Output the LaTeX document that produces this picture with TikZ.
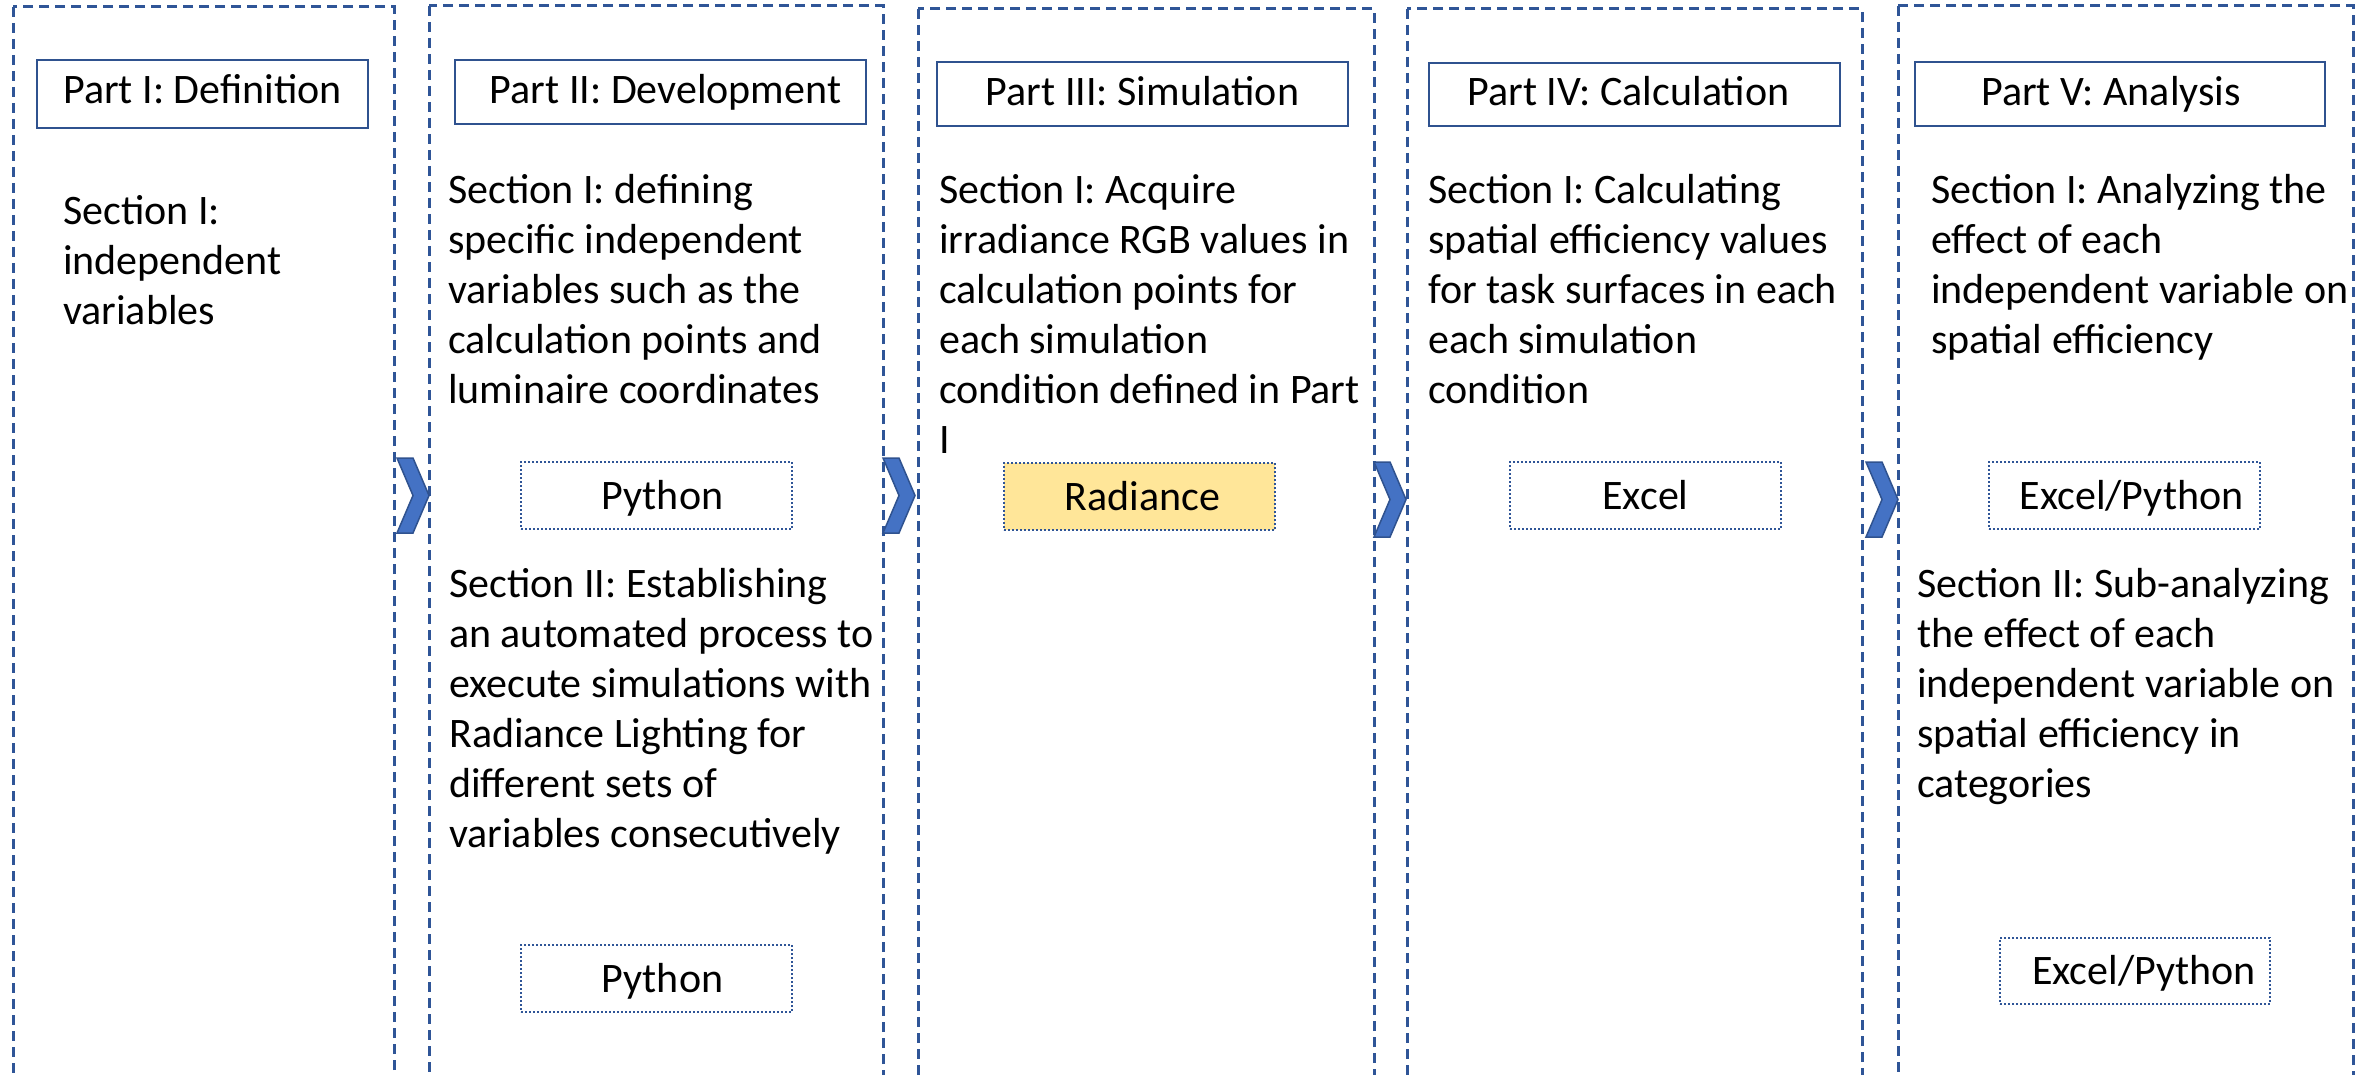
\documentclass[tikz,border=0pt]{standalone}
\usepackage{fontspec}
\setmainfont{Carlito}
\definecolor{colblue}{RGB}{47,85,151}
\definecolor{titleblue}{RGB}{47,82,143}
\definecolor{chevfill}{RGB}{68,114,196}
\definecolor{chevdraw}{RGB}{47,82,143}
\definecolor{radfill}{RGB}{255,230,153}
\begin{document}
\begin{tikzpicture}[x=1pt,y=-1pt,
  every node/.style={font=\fontsize{42}{50}\selectfont, inner sep=0pt},
  colbox/.style={draw=colblue, line width=3pt, dash pattern=on 10pt off 6pt},
  titlebox/.style={draw=titleblue, line width=2.8pt, text height=27pt, text depth=4pt},
  toolbox/.style={draw=colblue, line width=2.5pt, dash pattern=on 2pt off 2pt,
    text height=27pt, text depth=0pt, minimum width=271pt, minimum height=67pt},
  sectext/.style={anchor=base west, align=left},
  chev/.pic={\filldraw[fill=chevfill, draw=chevdraw, line width=1.5pt]
    (0,0) -- (16,0) -- (32,37.5) -- (16,75) -- (0,75) -- (16,37.5) -- cycle;}
]
\useasboundingbox (0,0) rectangle (2374,1075);

% columns
\draw[colbox] (13,7) rectangle (394,1076);
\draw[colbox] (429,6) rectangle (883,1076);
\draw[colbox] (918,9) rectangle (1374,1076);
\draw[colbox] (1407,9) rectangle (1862,1076);
\draw[colbox] (1898,6) rectangle (2353,1076);

% chevrons
\coordinate (c1) at (397,458);
\coordinate (c2) at (883,458);
\coordinate (c3) at (1374,462);
\coordinate (c4) at (1866,462);
\pic at (c1) {chev};
\pic at (c2) {chev};
\pic at (c3) {chev};
\pic at (c4) {chev};

% titles
\node[titlebox, text depth=7pt, minimum width=331pt, minimum height=68pt] (t1) at (202.5,94) {Part I: Definition};
\node[titlebox, minimum width=411pt, minimum height=64pt] (t2) at (660.5,92) {\kern10pt Part II: Development};
\node[titlebox, minimum width=411pt, minimum height=64pt] (t3) at (1142.5,94) {Part III: Simulation};
\node[titlebox, minimum width=411pt, minimum height=63pt] (t4) at (1634.5,94.5) {Part IV: Calculation\kern12pt};
\node[titlebox, minimum width=410pt, minimum height=64pt] (t5) at (2120,94) {Part V: Analysis\kern18pt};

% section texts (anchored at the baseline of their last line)
\node[sectext] (s1) at (63,324) {Section I:\\independent\\variables};
\node[sectext] (s2a) at (448,403) {Section I: defining\\specific independent\\variables such as the\\calculation points and\\luminaire coordinates};
\node[sectext] (s2b) at (449,847) {Section II: Establishing\\an automated process to\\execute simulations with\\Radiance Lighting for\\different sets of\\variables consecutively};
\node[sectext] (s3) at (939,453) {Section I: Acquire\\irradiance RGB values in\\calculation points for\\each simulation\\condition defined in Part\\I};
\node[sectext] (s4) at (1428,403) {Section I: Calculating\\spatial efficiency values\\for task surfaces in each\\each simulation\\condition};
\node[sectext] (s5a) at (1931,353) {Section I: Analyzing the\\effect of each\\independent variable on\\spatial efficiency};
\node[sectext] (s5b) at (1917,797) {Section II: Sub-analyzing\\the effect of each\\independent variable on\\spatial efficiency in\\categories};

% tool boxes
\node[toolbox] (p1) at (656.5,495.5) {\kern12pt Python};
\node[toolbox, fill=radfill] (rad) at (1139.5,496.5) {\kern6pt Radiance};
\node[toolbox] (ex) at (1645.5,495.5) {Excel};
\node[toolbox] (ep1) at (2124.5,495.5) {\kern14pt Excel/Python};
\node[toolbox] (p2) at (656.5,978.5) {\kern12pt Python};
\node[toolbox, minimum width=270pt, minimum height=66pt] (ep2) at (2135,971) {\kern18pt Excel/Python};
\end{tikzpicture}
\end{document}
